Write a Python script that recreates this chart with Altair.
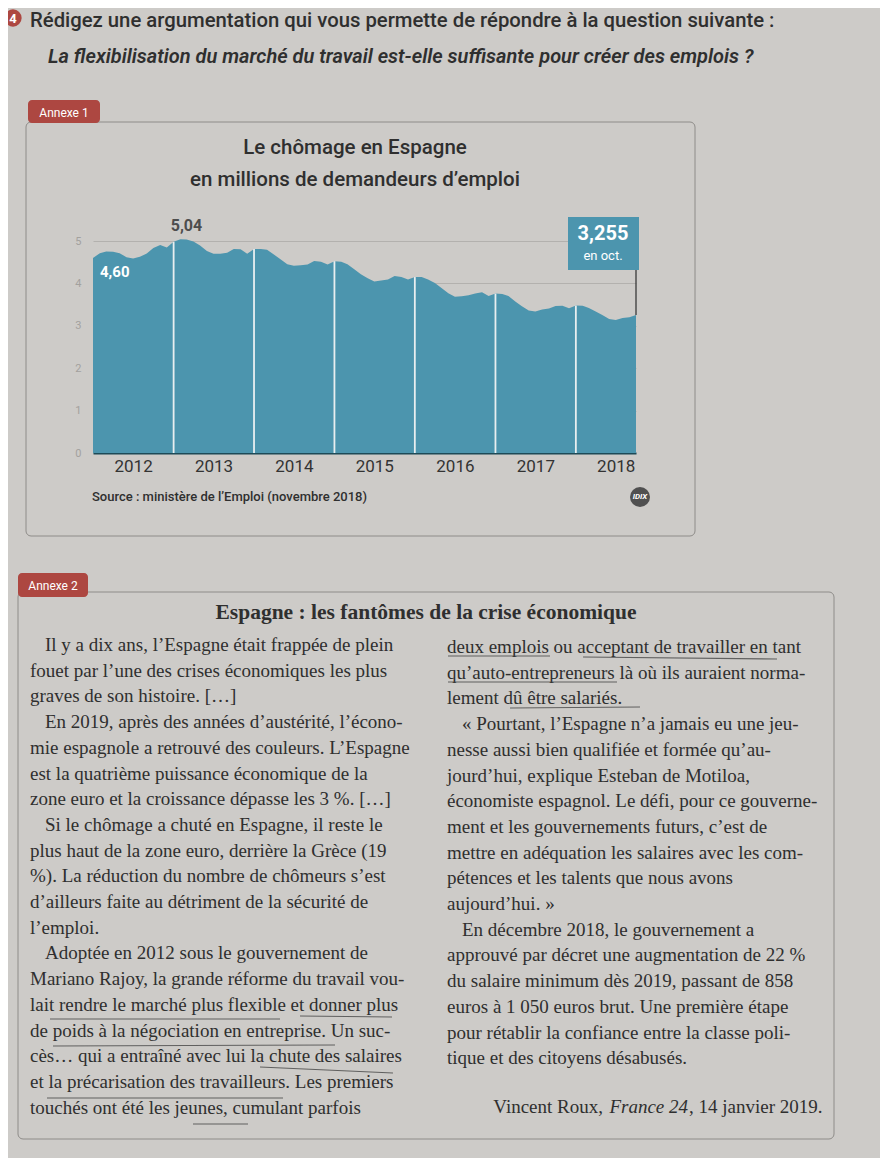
import altair as alt
import pandas as pd

# ---------------- data ----------------
dates = pd.date_range("2012-01-01", "2018-10-01", freq="MS")
chomeurs = [
    4.600, 4.712, 4.751, 4.744, 4.714, 4.615, 4.587, 4.626, 4.705, 4.834, 4.908, 4.848,
    4.981, 5.040, 5.035, 4.989, 4.891, 4.763, 4.698, 4.699, 4.724, 4.811, 4.808, 4.701,
    4.814, 4.812, 4.795, 4.684, 4.572, 4.449, 4.419, 4.427, 4.447, 4.526, 4.512, 4.448,
    4.525, 4.512, 4.452, 4.333, 4.215, 4.120, 4.046, 4.067, 4.094, 4.176, 4.149, 4.094,
    4.150, 4.152, 4.094, 4.011, 3.891, 3.767, 3.684, 3.697, 3.721, 3.764, 3.789, 3.703,
    3.760, 3.750, 3.702, 3.573, 3.462, 3.363, 3.336, 3.383, 3.410, 3.467, 3.475, 3.413,
    3.477, 3.470, 3.422, 3.335, 3.252, 3.163, 3.135, 3.183, 3.203, 3.255,
]
years = ["2012", "2013", "2014", "2015", "2016", "2017", "2018"]
y_ticks = [0, 1, 2, 3, 4, 5]

header_q = "Rédigez une argumentation qui vous permette de répondre à la question suivante :"
header_sub = "La flexibilisation du marché du travail est-elle suffisante pour créer des emplois ?"
chart_title = ["Le chômage en Espagne", "en millions de demandeurs d’emploi"]
source_txt = "Source : ministère de l’Emploi (novembre 2018)"
article_title = "Espagne : les fantômes de la crise économique"
# (text, starts a paragraph)
left_lines = [
    ("Il y a dix ans, l’Espagne était frappée de plein", True),
    ("fouet par l’une des crises économiques les plus", False),
    ("graves de son histoire. […]", False),
    ("En 2019, après des années d’austérité, l’écono-", True),
    ("mie espagnole a retrouvé des couleurs. L’Espagne", False),
    ("est la quatrième puissance économique de la", False),
    ("zone euro et la croissance dépasse les 3 %. […]", False),
    ("Si le chômage a chuté en Espagne, il reste le", True),
    ("plus haut de la zone euro, derrière la Grèce (19", False),
    ("%). La réduction du nombre de chômeurs s’est", False),
    ("d’ailleurs faite au détriment de la sécurité de", False),
    ("l’emploi.", False),
    ("Adoptée en 2012 sous le gouvernement de", True),
    ("Mariano Rajoy, la grande réforme du travail vou-", False),
    ("lait rendre le marché plus flexible et donner plus", False),
    ("de poids à la négociation en entreprise. Un suc-", False),
    ("cès… qui a entraîné avec lui la chute des salaires", False),
    ("et la précarisation des travailleurs. Les premiers", False),
    ("touchés ont été les jeunes, cumulant parfois", False),
]
right_lines = [
    ("deux emplois ou acceptant de travailler en tant", False),
    ("qu’auto-entrepreneurs là où ils auraient norma-", False),
    ("lement dû être salariés.", False),
    ("« Pourtant, l’Espagne n’a jamais eu une jeu-", True),
    ("nesse aussi bien qualifiée et formée qu’au-", False),
    ("jourd’hui, explique Esteban de Motiloa,", False),
    ("économiste espagnol. Le défi, pour ce gouverne-", False),
    ("ment et les gouvernements futurs, c’est de", False),
    ("mettre en adéquation les salaires avec les com-", False),
    ("pétences et les talents que nous avons", False),
    ("aujourd’hui. »", False),
    ("En décembre 2018, le gouvernement a", True),
    ("approuvé par décret une augmentation de 22 %", False),
    ("du salaire minimum dès 2019, passant de 858", False),
    ("euros à 1 050 euros brut. Une première étape", False),
    ("pour rétablir la confiance entre la classe poli-", False),
    ("tique et des citoyens désabusés.", False),
]
credit = ["Vincent Roux,", "France 24", ", 14 janvier 2019."]

# ---------------- styling / layout ----------------
BG = "#cdcbc8"
TEAL = "#4c95ae"
RED = "#ad4741"
DARK = "#2f2f2f"
X0, Y0 = 93, 241          # page position of the plot origin
PW, PH = 543, 212         # plot area
TOTAL_W, TOTAL_H = 872, 1150
SANS = "Roboto"
SERIF = "Liberation Serif"
BODY = 19
LH = 25.7
INDENT = 15

df = pd.DataFrame({"date": dates, "value": chomeurs})
df["base"] = 0.0
sep = df[(df["date"].dt.month == 1) & (df["date"].dt.year > 2012)]
peak = df[df["value"] == df["value"].max()]
first = df.iloc[[0]]
last = df.iloc[[-1]]
one = pd.DataFrame({"k": [0]})

xscale = alt.Scale(domain=[alt.DateTime(year=2012, month=1, date=1),
                           alt.DateTime(year=2018, month=10, date=1)])
yscale = alt.Scale(domain=[0, 5], nice=False)
X = alt.X("date:T", scale=xscale, title=None,
          axis=alt.Axis(values=[alt.DateTime(year=int(y), month=7, date=1) for y in years],
                        format="%Y", ticks=False, grid=False, domainColor="#1d4a57",
                        domainWidth=2, labelFont=SANS, labelFontSize=17, labelColor="#333333",
                        labelPadding=5, labelAngle=0))
Y = alt.Y("value:Q", scale=yscale, title=None,
          axis=alt.Axis(values=y_ticks, ticks=False, domain=False, grid=True,
                        gridColor="#b3b1ae", gridWidth=1, labelFont=SANS, labelFontSize=11,
                        labelColor="#a3a19e", labelPadding=12))


def px(x):
    return alt.value(x - X0)


def py(y):
    return alt.value(y - Y0)


def fr(expr_fmt):
    return f"replace(format(datum.value, '{expr_fmt}'), '.', ',')"


layers = []

# boxes and tabs
layers.append(alt.Chart(one).mark_rect(fillOpacity=0, stroke="#8e8c89", strokeWidth=1, cornerRadius=5)
              .encode(x=px(26), x2=px(695), y=py(122), y2=py(536)))
layers.append(alt.Chart(one).mark_rect(fillOpacity=0, stroke="#8e8c89", strokeWidth=1, cornerRadius=5)
              .encode(x=px(18), x2=px(834), y=py(592), y2=py(1139)))
for (x1, x2, y1, y2, label) in [(28, 100, 100, 123, "Annexe 1"), (18, 88, 573, 597, "Annexe 2")]:
    layers.append(alt.Chart(one).mark_rect(fill=RED, cornerRadius=4)
                  .encode(x=px(x1), x2=px(x2), y=py(y1), y2=py(y2)))
    layers.append(alt.Chart(one).mark_text(font=SANS, fontSize=12, color="white", align="center",
                                           baseline="middle")
                  .encode(x=px((x1 + x2) / 2), y=py((y1 + y2) / 2 + 1), text=alt.value(label)))

# header
layers.append(alt.Chart(one).mark_circle(size=300, color=RED, opacity=1)
              .encode(x=px(13), y=py(18)))
layers.append(alt.Chart(one).mark_text(font=SANS, fontSize=13, fontWeight="bold", color="white",
                                       align="center", baseline="middle")
              .encode(x=px(13), y=py(18.5), text=alt.value("4")))
layers.append(alt.Chart(one).mark_text(font=SANS, fontSize=20.3, fontWeight=500, color=DARK,
                                       align="left", baseline="alphabetic")
              .encode(x=px(30), y=py(27), text=alt.value(header_q)))
layers.append(alt.Chart(one).mark_text(font=SANS, fontSize=20, fontWeight=600, fontStyle="italic",
                                       color=DARK, align="left", baseline="alphabetic")
              .encode(x=px(48), y=py(63), text=alt.value(header_sub)))

# chart title & source
layers.append(alt.Chart(one).mark_text(font=SANS, fontSize=20.5, fontWeight=500, color=DARK,
                                       align="center", baseline="alphabetic", lineHeight=32)
              .encode(x=px(355), y=py(154), text=alt.value(chart_title)))
layers.append(alt.Chart(one).mark_text(font=SANS, fontSize=13, fontWeight=500, color=DARK,
                                       align="left", baseline="middle")
              .encode(x=px(92), y=py(497), text=alt.value(source_txt)))
layers.append(alt.Chart(one).mark_circle(size=400, color="#505050", opacity=1)
              .encode(x=px(640), y=py(497)))
layers.append(alt.Chart(one).mark_text(font=SANS, fontSize=8, fontWeight="bold", fontStyle="italic",
                                       color="white", align="center", baseline="middle")
              .encode(x=px(640), y=py(497), text=alt.value("IDIX")))

# the area chart
layers.append(alt.Chart(df).mark_area(color=TEAL, opacity=1).encode(x=X, y=Y))
layers.append(alt.Chart(sep).mark_rule(color="#e8eef0", strokeWidth=1.8)
              .encode(x="date:T", y="value:Q", y2="base"))
layers.append(alt.Chart(peak).transform_calculate(lab=fr(".2f"))
              .mark_text(font=SANS, fontSize=16, fontWeight="bold", color="#4d4d4d",
                         align="center", dx=6, dy=-13)
              .encode(x="date:T", y="value:Q", text="lab:N"))
layers.append(alt.Chart(first).transform_calculate(lab=fr(".2f"))
              .mark_text(font=SANS, fontSize=15, fontWeight="bold", color="white",
                         align="left", dx=7, dy=14)
              .encode(x="date:T", y="value:Q", text="lab:N"))
layers.append(alt.Chart(last).mark_rule(color="#3a3a3a", strokeWidth=1.3)
              .encode(x="date:T", y="value:Q", y2=py(270)))
layers.append(alt.Chart(last).mark_rect(fill=TEAL, xOffset=-68, x2Offset=3)
              .encode(x="date:T", x2="date:T", y=py(217), y2=py(270)))
layers.append(alt.Chart(last).transform_calculate(lab=fr(".3f"))
              .mark_text(font=SANS, fontSize=20, fontWeight="bold", color="white",
                         align="center", baseline="middle", dx=-33)
              .encode(x="date:T", y=py(234), text="lab:N"))
layers.append(alt.Chart(last).mark_text(font=SANS, fontSize=13, color="white", align="center",
                                        baseline="middle", dx=-33)
              .encode(x="date:T", y=py(256), text=alt.value("en oct.")))

# article
layers.append(alt.Chart(one).mark_text(font=SERIF, fontSize=21.5, fontWeight="bold", color=DARK,
                                       align="center", baseline="middle")
              .encode(x=px(426), y=py(613), text=alt.value(article_title)))
for lines, x_left, y_first in [(left_lines, 30, 651), (right_lines, 447, 653)]:
    for i, (t, ind) in enumerate(lines):
        xx = x_left + (INDENT if ind else 0)
        layers.append(alt.Chart(one).mark_text(font=SERIF, fontSize=BODY, color=DARK, align="left",
                                               baseline="alphabetic")
                      .encode(x=px(xx), y=py(y_first + i * LH), text=alt.value(t)))

layers.append(alt.Chart(one).mark_text(font=SERIF, fontSize=BODY, color=DARK, align="right",
                                       baseline="alphabetic")
              .encode(x=px(603), y=py(1113), text=alt.value(credit[0])))
layers.append(alt.Chart(one).mark_text(font=SERIF, fontSize=BODY, fontStyle="italic", color=DARK,
                                       align="right", baseline="alphabetic")
              .encode(x=px(688), y=py(1113), text=alt.value(credit[1])))
layers.append(alt.Chart(one).mark_text(font=SERIF, fontSize=BODY, color=DARK, align="left",
                                       baseline="alphabetic")
              .encode(x=px(689), y=py(1113), text=alt.value(credit[2])))

# hand-drawn pen underlines on the page
pen = [
    (448, 550, 656, 656), (583, 777, 657, 659), (448, 617, 682, 682), (510, 640, 708, 707),
    (50, 280, 1019, 1019), (300, 392, 1016, 1017), (53, 335, 1046, 1045),
    (260, 393, 1067, 1073), (47, 283, 1098, 1098), (193, 248, 1124, 1124),
]
for (a, b, c, d) in pen:
    layers.append(alt.Chart(one).mark_rule(color="#454545", strokeWidth=1.1, opacity=0.8)
                  .encode(x=px(a), x2=px(b), y=py(c), y2=py(d)))

chart = (
    alt.layer(*layers)
    .properties(
        width=PW, height=PH,
        padding={"left": X0 - 8, "top": Y0 - 8, "right": TOTAL_W - (X0 - 8) - PW,
                 "bottom": TOTAL_H - (Y0 - 8) - PH},
        autosize=alt.AutoSizeParams(type="none"),
        background=BG,
    )
    .configure_view(strokeWidth=0)
    .configure_axis(labelFont=SANS)
)

chart.save("out.html", embed_options={"renderer": "svg", "actions": False})
